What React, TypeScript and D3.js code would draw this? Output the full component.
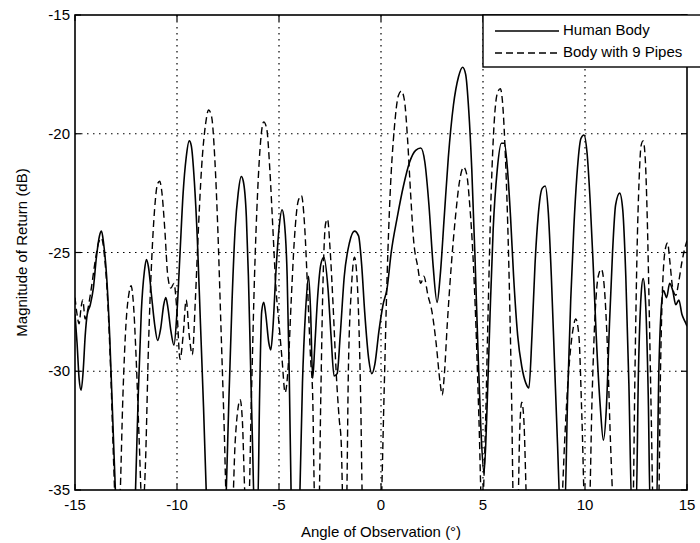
import React from "react";
import * as d3 from "d3";

// ---- Data ----
const xTicks = [-15, -10, -5, 0, 5, 10, 15];
const yTicks = [-35, -30, -25, -20, -15];
const seriesNames = ["Human Body", "Body with 9 Pipes"];

const humanAngles = [
  -15, -14.9, -14.8, -14.7, -14.6, -14.5, -14.4, -14.25, -14.1, -13.95, -13.8, -13.7, -13.6, -13.45, -13.3, -13.15, -13.0, -12.7, -12.3, -12.05,
  -11.9, -11.75, -11.6, -11.5, -11.4, -11.25, -11.1, -10.95, -10.8, -10.65, -10.55, -10.45, -10.3, -10.15, -10.0, -9.85, -9.7, -9.55, -9.4, -9.3,
  -9.15, -9.0, -8.85, -8.7, -8.55, -8.2, -7.8, -7.6, -7.45, -7.3, -7.15, -7.0, -6.85, -6.75, -6.6, -6.5, -6.4, -6.3, -6.2, -6.05,
  -5.95, -5.85, -5.75, -5.65, -5.5, -5.4, -5.3, -5.15, -5.0, -4.85, -4.75, -4.6, -4.5, -4.4, -4.2, -4.0, -3.85, -3.7, -3.55, -3.45,
  -3.35, -3.25, -3.1, -2.95, -2.8, -2.6, -2.45, -2.3, -2.15, -2.0, -1.8, -1.55, -1.3, -1.1, -0.95, -0.8, -0.6, -0.45, -0.3, -0.1,
  0.1, 0.3, 0.5, 0.8, 1.1, 1.4, 1.7, 1.95, 2.15, 2.35, 2.55, 2.75, 2.9, 3.1, 3.3, 3.55, 3.8, 4.0, 4.15, 4.3,
  4.45, 4.6, 4.75, 4.9, 5.05, 5.2, 5.35, 5.5, 5.7, 5.9, 6.05, 6.2, 6.35, 6.5, 6.7, 6.9, 7.1, 7.25, 7.4, 7.55,
  7.7, 7.9, 8.05, 8.2, 8.35, 8.5, 8.65, 8.8, 9.0, 9.15, 9.3, 9.45, 9.6, 9.8, 9.95, 10.1, 10.25, 10.4, 10.55, 10.75,
  10.9, 11.05, 11.2, 11.35, 11.5, 11.7, 11.85, 12.0, 12.15, 12.3, 12.5, 12.62, 12.75, 12.85, 12.95, 13.1, 13.2, 13.5, 13.62, 13.75,
  13.85, 14.0, 14.15, 14.3, 14.45, 14.6, 14.75, 14.9, 15,
];
const humanDb = [
  -27.6, -28.8, -30.3, -30.8, -30.0, -28.5, -27.6, -27.2, -26.5, -25.2, -24.3, -24.1, -24.6, -26, -28.5, -32, -35.5, -40, -40, -35.5,
  -31, -27.5, -25.8, -25.3, -25.6, -26.8, -28, -28.7, -28.2, -27.2, -26.9, -27.3, -28.3, -28.9, -27.5, -25, -22.5, -21, -20.3, -20.5,
  -22, -24.5, -28, -31.5, -35.5, -40, -40, -35.5, -31, -27, -24, -22.5, -21.8, -22, -23.5, -26, -29.5, -33, -36, -36,
  -31, -27.5, -27.1, -27.6, -28.8, -29.1, -28.2, -25.8, -24, -23.2, -23.6, -26, -30, -35.5, -40, -36, -30.5, -27.5, -26, -27.5,
  -30.3, -29, -26.8, -25.5, -25.2, -26.5, -28.5, -30.2, -30.1, -28.5, -26, -24.6, -24.1, -24.3, -25.5, -27.5, -29.5, -30.1, -29.7, -28.3,
  -27.2, -26.5, -25, -23.5, -22.2, -21.2, -20.7, -20.6, -21.2, -23, -25.5, -27.1, -26, -23.5, -21, -18.8, -17.6, -17.2, -17.5, -19,
  -21.5, -25, -29, -32.5, -34.3, -31.5, -27.5, -24, -21.5, -20.4, -20.4, -21.5, -23.5, -26, -28.5, -29.8, -30.5, -30.7, -28.5, -25.5,
  -23.5, -22.3, -22.2, -23.3, -26, -29.5, -33, -36, -36, -31, -27, -24, -21.8, -20.2, -20.05, -20.8, -22.8, -25.5, -28.5, -31.5,
  -32.9, -31.5, -28, -25, -23, -22.5, -23.2, -26, -30.5, -36, -36, -30, -26.8, -26.1, -26.8, -31, -36, -36, -30, -27.2,
  -26.6, -26.9, -26.3, -26.6, -27.2, -27, -27.6, -27.9, -28.1,
];

const pipesAngles = [
  -15, -14.9, -14.8, -14.7, -14.62, -14.5, -14.35, -14.2, -14.0, -13.85, -13.7, -13.55, -13.4, -13.25, -13.1, -12.95, -12.8, -12.65, -12.5, -12.35,
  -12.25, -12.15, -12.0, -11.85, -11.7, -11.55, -11.4, -11.25, -11.1, -10.95, -10.85, -10.75, -10.6, -10.45, -10.3, -10.15, -10.0, -9.85, -9.7, -9.55,
  -9.4, -9.25, -9.1, -8.95, -8.8, -8.6, -8.45, -8.3, -8.15, -8.0, -7.85, -7.7, -7.55, -7.3, -7.15, -7.0, -6.9, -6.8, -6.65, -6.5,
  -6.35, -6.2, -6.05, -5.9, -5.75, -5.6, -5.45, -5.3, -5.15, -5.0, -4.85, -4.7, -4.55, -4.4, -4.25, -4.05, -3.9, -3.75, -3.6, -3.45,
  -3.35, -3.25, -3.05, -2.95, -2.85, -2.72, -2.62, -2.5, -2.35, -2.2, -2.05, -1.95, -1.85, -1.7, -1.6, -1.45, -1.3, -1.15, -1.0, -0.9,
  -0.4, 0.0, 0.15, 0.3, 0.45, 0.65, 0.85, 1.0, 1.15, 1.3, 1.45, 1.6, 1.8, 1.95, 2.1, 2.3, 2.5, 2.7, 2.9, 3.0,
  3.1, 3.25, 3.45, 3.65, 3.85, 4.05, 4.2, 4.35, 4.5, 4.65, 4.8, 4.95, 5.1, 5.25, 5.4, 5.55, 5.7, 5.85, 5.95, 6.1,
  6.25, 6.4, 6.5, 6.7, 6.8, 6.9, 7.0, 7.15, 7.6, 8.4, 8.85, 9.0, 9.2, 9.4, 9.55, 9.7, 9.85, 10.0, 10.2, 10.35,
  10.5, 10.65, 10.8, 10.95, 11.1, 11.25, 11.4, 12.0, 12.35, 12.45, 12.55, 12.65, 12.75, 12.85, 12.95, 13.05, 13.15, 13.25, 13.35, 13.6,
  13.7, 13.8, 13.95, 14.05, 14.15, 14.3, 14.45, 14.6, 14.75, 14.9, 15,
];
const pipesDb = [
  -26.9, -27.6, -28, -27.3, -27.0, -27.8, -27.3, -26.5, -25.3, -24.6, -24.4, -25.2, -27, -30, -34, -37, -35.5, -31, -28, -26.7,
  -26.4, -27, -29.5, -33, -36, -34, -29, -25.5, -23.2, -22.1, -22, -22.4, -24, -26, -26.5, -26.3, -27.5, -29.5, -28.5, -27,
  -28.5, -29.3, -27, -24, -21.5, -19.6, -19, -19.3, -21, -24, -28, -32, -36, -36, -33, -31.5, -31.2, -32, -35.5, -36,
  -31, -26, -22.5, -20.3, -19.5, -19.8, -21.5, -24, -26.5, -28, -29.5, -30.9, -29.8, -27, -24.5, -22.8, -22.6, -23.8, -26.5, -29.5,
  -31, -35.5, -36, -31, -26.5, -23.8, -23.6, -24.8, -27.2, -30, -32, -33, -36, -36, -30, -26.5, -25.2, -26.5, -31, -36,
  -40, -36, -31, -26, -22.5, -19.8, -18.4, -18.2, -18.6, -20.2, -22.5, -24.5, -25.6, -26.3, -26, -26.8, -27.5, -28.8, -30.5, -31,
  -30.2, -28, -25.5, -23.5, -22, -21.4, -21.7, -23, -25, -28, -32, -36, -33, -27.5, -22.5, -19.5, -18.3, -18.1, -18.6, -21,
  -25, -31, -36, -36, -32.5, -31.3, -32, -36, -40, -40, -36, -33, -30, -28.3, -27.8, -28.5, -32, -36, -36, -31,
  -27.5, -26, -25.7, -26.5, -29, -33, -36, -40, -36, -30, -25, -22, -20.5, -20.3, -21, -23.5, -27.5, -32, -36, -36,
  -30, -26.5, -24.8, -24.6, -25.3, -26.5, -26.8, -26.2, -25.4, -24.8, -24.5,
];

// ---- Layout ----
const W = 700;
const H = 543;
const left = 75;
const right = 687;
const top = 15;
const bottom = 490;
const FONT = "'Liberation Sans', Arial, Helvetica, sans-serif";

export default function App() {
  const x = d3.scaleLinear().domain([-15, 15]).range([left, right]);
  const y = d3.scaleLinear().domain([-35, -15]).range([bottom, top]);

  const line = d3
    .line<[number, number]>()
    .x((d) => x(d[0]))
    .y((d) => y(d[1]))
    .curve(d3.curveMonotoneX);

  const humanPts: [number, number][] = humanAngles.map((a, i) => [a, humanDb[i]]);
  const pipesPts: [number, number][] = pipesAngles.map((a, i) => [a, pipesDb[i]]);

  const gridX = xTicks.filter((t) => t > -15 && t < 15);
  const gridY = yTicks.filter((t) => t > -35 && t < -15);

  const legX = 483;
  const legY = 15;
  const legH = 52;
  const row1 = 31;
  const row2 = 53;

  return (
    <svg
      width={W}
      height={H}
      style={{ position: "absolute", left: 0, top: 0, background: "#fff" }}
      fontFamily={FONT}
    >
      <rect x={0} y={0} width={W} height={H} fill="#fff" />
      <defs>
        <clipPath id="plotClip">
          <rect x={left} y={top} width={right - left} height={bottom - top} />
        </clipPath>
      </defs>

      {/* grid */}
      <g stroke="#000" strokeWidth={1.2} strokeDasharray="1.5,4.5">
        {gridX.map((t) => (
          <line key={"gx" + t} x1={x(t)} x2={x(t)} y1={top} y2={bottom} />
        ))}
        {gridY.map((t) => (
          <line key={"gy" + t} x1={left} x2={right} y1={y(t)} y2={y(t)} />
        ))}
      </g>

      {/* data */}
      <g clipPath="url(#plotClip)" fill="none" stroke="#000">
        <path d={line(pipesPts) || ""} strokeWidth={1.4} strokeDasharray="7,4" />
        <path d={line(humanPts) || ""} strokeWidth={1.6} />
      </g>

      {/* ticks */}
      <g stroke="#000" strokeWidth={1.2}>
        {xTicks.map((t) => (
          <g key={"tx" + t}>
            <line x1={x(t)} x2={x(t)} y1={bottom} y2={bottom - 6} />
            <line x1={x(t)} x2={x(t)} y1={top} y2={top + 6} />
          </g>
        ))}
        {yTicks.map((t) => (
          <g key={"ty" + t}>
            <line x1={left} x2={left + 6} y1={y(t)} y2={y(t)} />
            <line x1={right} x2={right - 6} y1={y(t)} y2={y(t)} />
          </g>
        ))}
      </g>

      {/* axes box */}
      <rect
        x={left}
        y={top}
        width={right - left}
        height={bottom - top}
        fill="none"
        stroke="#000"
        strokeWidth={1.6}
      />

      {/* tick labels */}
      <g fontSize={15} fill="#000">
        {xTicks.map((t) => (
          <text key={"lx" + t} x={x(t)} y={bottom + 20} textAnchor="middle">
            {t}
          </text>
        ))}
        {yTicks.map((t) => (
          <text key={"ly" + t} x={left - 5} y={y(t) + 5} textAnchor="end">
            {t}
          </text>
        ))}
      </g>

      {/* axis titles */}
      <text x={(left + right) / 2} y={537} textAnchor="middle" fontSize={15}>
        Angle of Observation (°)
      </text>
      <text
        transform={`translate(27, ${(top + bottom) / 2}) rotate(-90)`}
        textAnchor="middle"
        fontSize={15}
      >
        Magnitude of Return (dB)
      </text>

      {/* legend */}
      <g>
        <rect x={legX} y={legY} width={W - legX + 10} height={legH} fill="#fff" stroke="#000" strokeWidth={1.4} />
        <line x1={495} x2={559} y1={row1} y2={row1} stroke="#000" strokeWidth={1.6} />
        <line x1={495} x2={559} y1={row2} y2={row2} stroke="#000" strokeWidth={1.4} strokeDasharray="7,4" />
        <text x={563} y={row1} dominantBaseline="middle" fontSize={15}>
          {seriesNames[0]}
        </text>
        <text x={563} y={row2} dominantBaseline="middle" fontSize={15}>
          {seriesNames[1]}
        </text>
      </g>
    </svg>
  );
}
